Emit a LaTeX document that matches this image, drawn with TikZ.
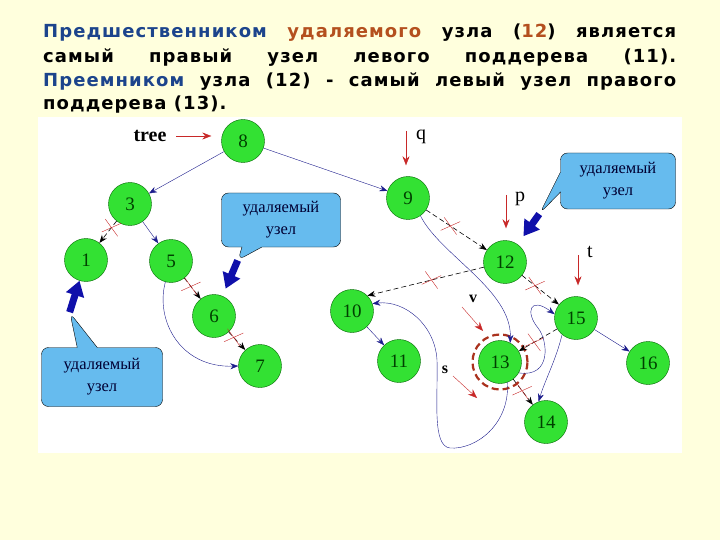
\documentclass[tikz,border=0pt]{standalone}
\usepackage{fontspec}
\setmainfont{Liberation Serif}
\newfontfamily\headfont[LetterSpace=6]{DejaVu Sans}
\usetikzlibrary{arrows.meta, shapes.misc, shapes.callouts, positioning}
\definecolor{bgyellow}{RGB}{255,255,221}
\definecolor{nodegreen}{RGB}{51,225,51}
\definecolor{linkblue}{RGB}{28,28,140}
\definecolor{fatblue}{RGB}{16,16,170}
\definecolor{calloutblue}{RGB}{102,187,238}
\definecolor{markred}{RGB}{200,40,40}
\definecolor{ringred}{RGB}{170,50,30}
\definecolor{headblue}{RGB}{28,68,140}
\definecolor{headbrown}{RGB}{180,80,30}
\tikzset{
    bst/.style = {draw=black!60!green, circle, fill=nodegreen, minimum size=43pt, inner sep=0pt, font=\fontsize{19}{19}\selectfont, text=black!75!green},
    link/.style = {draw=linkblue, -{Stealth[length=8pt, width=6pt]}},
    cut/.style = {dash pattern=on 5pt off 3pt, semithick, -{Stealth[length=8pt, width=6pt]}},
    xmark/.style = {draw=markred, cross out, minimum width=16pt, minimum height=13pt, inner sep=0pt, rotate=-15, solid, thin},
    ptr/.style = {draw=markred, -{Stealth[length=9pt, width=7pt]}},
    note/.style = {rectangle callout, rounded corners=7pt, draw, fill=calloutblue, callout pointer width=20pt, align=center, text=black!80!blue, font=\fontsize{16.5}{22}\selectfont},
    fatarrow/.style = {draw=fatblue, line width=7pt, -{Triangle[length=15pt, width=18pt]}},
    head/.style = {anchor=base west, inner sep=0pt, font=\headfont\bfseries\fontsize{18}{20}\selectfont}
}

\begin{document}
\begin{tikzpicture}[
    x=1pt, y=-1pt,
    ring/.style={circle, draw=ringred, line width=2.2pt, dash pattern=on 7pt off 4pt, minimum size=55pt},
    label/.style={font=\fontsize{20}{20}\selectfont},
    small/.style={font=\bfseries\fontsize{16}{16}\selectfont}
]
    \useasboundingbox (0,0) rectangle (720,540);
    \fill[bgyellow] (0,0) rectangle (720,540);
    \fill[white] (38,117) rectangle (682,453);

    % Heading
    \node[head] (line1) at (43,38) {\makebox[633pt][s]{\textcolor{headblue}{Предшественником} \textcolor{headbrown}{удаляемого} узла (\textcolor{headbrown}{12}) является}};
    \node[head] (line2) at (43,63) {\makebox[633pt][s]{самый правый узел левого поддерева (11).}};
    \node[head] (line3) at (43,87) {\makebox[633pt][s]{\textcolor{headblue}{Преемником} узла (12) - самый левый узел правого}};
    \node[head] (line4) at (43,110) {поддерева (13).};

    % Left subtree
    \node[bst] (n8) at (243,141) {8};
    \node[bst] (n3) at (130,204) {3};
    \node[bst] (n1) at (86,260) {1};
    \node[bst] (n5) at (171,261) {5};
    \node[bst] (n6) at (214,316) {6};
    \node[bst] (n7) at (260,366) {7};

    % Right subtree
    \node[bst] (n9) at (408,198) {9};
    \node[bst] (n12) at (505,262) {12};
    \node[bst] (n10) at (352,311) {10};
    \node[bst] (n11) at (399,361) {11};
    \node[bst] (n13) at (500,362) {13};
    \node[bst] (n15) at (576,318) {15};
    \node[bst] (n16) at (648,363) {16};
    \node[bst] (n14) at (546,422) {14};
    \node[ring] (ring13) at (n13) {};

    % Links
    \draw[link] (n8) -- (n3);
    \draw[link] (n8) -- (n9);
    \draw[link] (n3) -- (n5);
    \draw[link] (n10) -- (n11);
    \draw[link] (n15) -- (n16);
    \draw[cut] (n3) -- node[xmark, pos=0.3] (x1) {} (n1);
    \draw[cut] (n5) -- node[xmark, pos=0.4] (x2) {} (n6);
    \draw[cut] (n6) -- node[xmark, pos=0.3] (x3) {} (n7);
    \draw[cut] (n9) -- node[xmark, pos=0.4] (x4) {} (n12);
    \draw[cut] (n12) -- node[xmark, pos=0.45] (x5) {} (n10.45);
    \draw[cut] (n12) -- node[xmark, pos=0.35] (x6) {} (n15);
    \draw[cut] (n15) -- node[xmark, pos=0.6] (x7) {} (n13);
    \draw[cut] (n13) -- node[xmark, pos=0.45] (x8) {} (n14);

    % New links after deletion
    \draw[link] (n5.255) .. controls (155,320) and (180,368) .. (n7.west);
    \draw[link] (n9.-55) .. controls (440,255) and (512,290) .. (n13.62);
    \draw[link] (n13.-30) .. controls (552,378) and (548,340) .. (538,328) .. controls (525,312) and (530,296) .. (n15.170);
    \draw[link] (n15.-130) .. controls (556,360) and (545,380) .. (n14.110);
    \draw[link] (n13.-70) .. controls (510,425) and (475,450) .. (450,448) .. controls (432,446) and (438,400) .. (437,360) .. controls (435,325) and (405,300) .. (n10.20);

    % Pointers
    \node[font=\bfseries\fontsize{20}{20}\selectfont] (treelbl) at (150,136) {tree};
    \draw[ptr, shorten <=6pt, shorten >=10pt] (treelbl.east) -- (treelbl.east -| n8.west);
    \node[label] (qlbl) at (421,137) {q};
    \coordinate (qtop) at (406,131);
    \draw[ptr, shorten >=11pt] (qtop) -- (qtop |- n9.north);
    \node[label] (plbl) at (520,199) {p};
    \coordinate (ptop) at (506,195);
    \draw[ptr, shorten >=12pt] (ptop) -- (ptop |- n12.north);
    \node[label] (tlbl) at (590,252) {t};
    \coordinate (ttop) at (578,255);
    \draw[ptr, shorten >=11pt] (ttop) -- (ttop |- n15.north);
    \node[small] (vlbl) at (473,299) {v};
    \coordinate (vtail) at (462,307);
    \coordinate (vhead) at (483,331);
    \draw[ptr] (vtail) -- (vhead);
    \node[small] (slbl) at (445,370) {s};
    \coordinate (stail) at (453,376);
    \coordinate (shead) at (477,398);
    \draw[ptr] (stail) -- (shead);

    % Callouts
    \coordinate (tip1) at (70,313);
    \coordinate (tip2) at (238,260);
    \coordinate (tip3) at (540,213);
    \node[note, minimum width=121pt, minimum height=59pt, callout absolute pointer=(tip1)] (c1) at (102,377) {удаляемый\\узел};
    \node[note, minimum width=119pt, minimum height=54pt, callout absolute pointer=(tip2)] (c2) at (281,220) {удаляемый\\узел};
    \node[note, minimum width=115pt, minimum height=56pt, callout absolute pointer=(tip3)] (c3) at (618,181) {удаляемый\\узел};
    \draw[fatarrow] (c1.pointer) -- (n1);
    \draw[fatarrow, shorten >=8pt] (c2.pointer) -- (n6);
    \draw[fatarrow, shorten >=10pt] (c3.pointer) -- (n12);

\end{tikzpicture}
\end{document}
